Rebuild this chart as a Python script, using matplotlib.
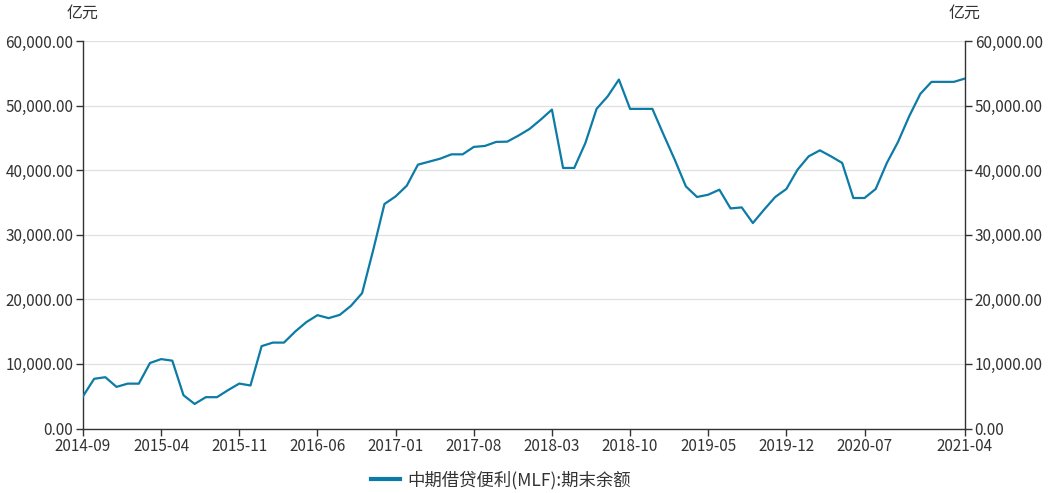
import matplotlib
matplotlib.use("Agg")
import matplotlib.pyplot as plt
from matplotlib.ticker import FuncFormatter, MultipleLocator

plt.rcParams['font.family'] = ['Noto Sans CJK SC', 'DejaVu Sans']

months = []
y, m = 2014, 9
while (y, m) <= (2021, 4):
    months.append(f"{y}-{m:02d}")
    m += 1
    if m > 12:
        m = 1
        y += 1

values = [5000, 7695, 7945, 6445, 6945, 6945, 10145, 10745, 10500, 5150,
          3800, 4850, 4850, 5950, 6958, 6658, 12753, 13300, 13300, 15000,
          16465, 17550, 17085, 17597, 18990, 20960, 27674, 34760, 35938, 37597,
          40853, 41318, 41783, 42450, 42450, 43597, 43752, 44372, 44418, 45349,
          46388, 47830, 49380, 40341, 40341, 44217, 49489, 51442, 54031, 49489,
          49489, 49489, 45504, 41628, 37488, 35845, 36201, 36977, 34077, 34232,
          31814, 33876, 35845, 37086, 40077, 42140, 43070, 42140, 41116, 35690,
          35690, 37086, 41116, 44372, 48341, 51815, 53673, 53673, 53673, 54187]

series_name = "中期借贷便利(MLF):期末余额"
unit = "亿元"
line_color = "#0c7ba6"
axis_color = "#333333"
text_color = "#333333"

fig = plt.figure(figsize=(10.5, 4.93), dpi=100)
ax = fig.add_axes([83/1050, 1-428.5/493, (965-83)/1050, (428.5-41)/493])

x = list(range(len(months)))
ax.plot(x, values, color=line_color, lw=1.6, solid_joinstyle='round', label=series_name, zorder=3)

ax.set_xlim(0, len(months)-1)
ax.set_ylim(0, 60000)
ax.yaxis.set_major_locator(MultipleLocator(10000))
fmt = FuncFormatter(lambda v, p: f"{v:,.2f}")
ax.yaxis.set_major_formatter(fmt)

tick_idx = list(range(0, len(months) - 7, 7)) + [len(months) - 1]
ax.set_xticks(tick_idx)
ax.set_xticklabels([months[i] for i in tick_idx])

ax.grid(axis='y', color='#e0e0e0', lw=0.9)
ax.set_axisbelow(True)
ax.spines['top'].set_visible(False)
for s in ['left', 'right', 'bottom']:
    ax.spines[s].set_color(axis_color)
    ax.spines[s].set_linewidth(1.0)

ax.tick_params(axis='both', colors=axis_color, labelcolor=text_color, labelsize=11,
               length=5, width=1.0, direction='out')
ax.tick_params(axis='y', left=True, right=True, labelleft=True, labelright=True, pad=2)
ax.tick_params(axis='x', pad=2)

fig.text(83/1050, 1-13/493, unit, ha='center', va='center', fontsize=11.5, color=text_color)
fig.text(965/1050, 1-13/493, unit, ha='center', va='center', fontsize=11.5, color=text_color)

leg = fig.legend(loc='center', bbox_to_anchor=(501/1050, 1-480/493), frameon=False,
                 fontsize=12.5, handlelength=1.7, handletextpad=0.4)
for t in leg.get_texts():
    t.set_color(text_color)
for l in leg.get_lines():
    l.set_linewidth(3)

fig.savefig("out.png", dpi=100)
